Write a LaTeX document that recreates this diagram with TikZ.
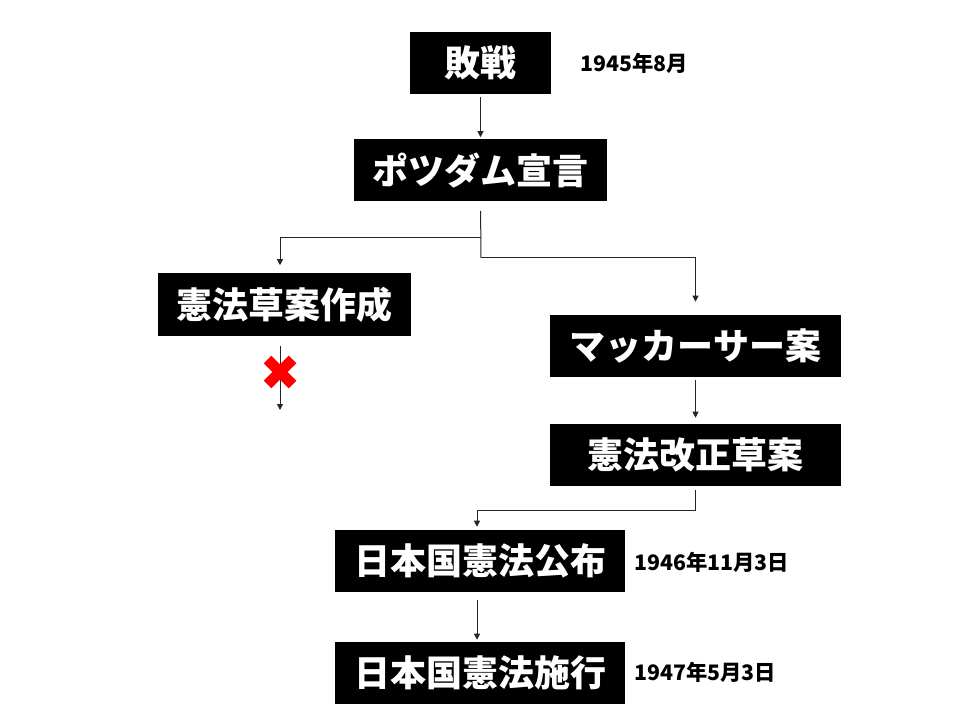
\documentclass[tikz,border=0pt]{standalone}
\usepackage{fontspec}
\newfontfamily\jp{Noto Sans CJK JP}
\usetikzlibrary{arrows.meta}

\begin{document}
\begin{tikzpicture}[
      x=0.75pt, y=-0.75pt,
      event box/.style ={fill=black, text=white, inner sep=0pt,
        minimum height=46.5pt, minimum width=#1,
        font=\jp\bfseries\fontsize{27}{27}\selectfont},
      event box/.default=217.5pt,
      date/.style ={anchor=west, inner sep=0pt, font=\jp\bfseries\fontsize{16}{16}\selectfont},
      flow/.style ={draw=black!85, line width=0.75pt, -{Triangle[length=4.5pt,width=4.5pt]}}]
    \useasboundingbox[fill=white] (0,0) rectangle (960,720);
    % events
    \node[event box=105.75pt] (haisen) at (480.5,63) {敗戦};
    \node[event box=189.75pt] (potsdam) at (480.5,170.5) {ポツダム宣言};
    \node[event box=189.75pt] (soan) at (284.5,304.5) {憲法草案作成};
    \node[event box=218.25pt] (macarthur) at (695.5,346) {マッカーサー案};
    \node[event box=218.25pt] (kaisei) at (695.5,455) {憲法改正草案};
    \node[event box] (kofu) at (480,561) {日本国憲法公布};
    \node[event box] (shiko) at (480,673) {日本国憲法施行};
    % dates
    \node[date] (d1945) at (580,63) {1945年8月};
    \node[date] (d1946) at (634,562) {1946年11月3日};
    \node[date] (d1947) at (634,672) {1947年5月3日};
    % branch points
    \coordinate (split1) at (481,238);
    \coordinate (split2) at (481,258);
    \coordinate (split3) at (477,510);
    \coordinate (dead) at (280,410);
    % arrows
    \draw[flow, shorten <=2.25pt, shorten >=1.5pt] (haisen.south) -- (potsdam.north);
    \draw[draw=black!85, line width=0.75pt, shorten <=6.75pt] (potsdam.south) -- (split2);
    \draw[flow, shorten >=6pt] (split1) -| (dead |- soan.north);
    \draw[flow, shorten >=9.75pt] (split2) -| (macarthur.north);
    \draw[flow, shorten <=7.5pt] (soan.south -| dead) -- (dead);
    \draw[flow, shorten <=2.25pt, shorten >=4.5pt] (macarthur.south) -- (kaisei.north);
    \draw[flow, shorten <=3pt, shorten >=2.25pt] (kaisei.south) |- (split3) -- (kofu.north -| split3);
    \draw[flow, shorten <=6pt, shorten >=1.5pt] (kofu.south -| split3) -- (shiko.north -| split3);
    % rejected
    \draw[red, line width=8pt] (280,372) ++(-12.5,-12.5) -- ++(25,25)
                                (280,372) ++(12.5,-12.5) -- ++(-25,25);
\end{tikzpicture}
\end{document}
